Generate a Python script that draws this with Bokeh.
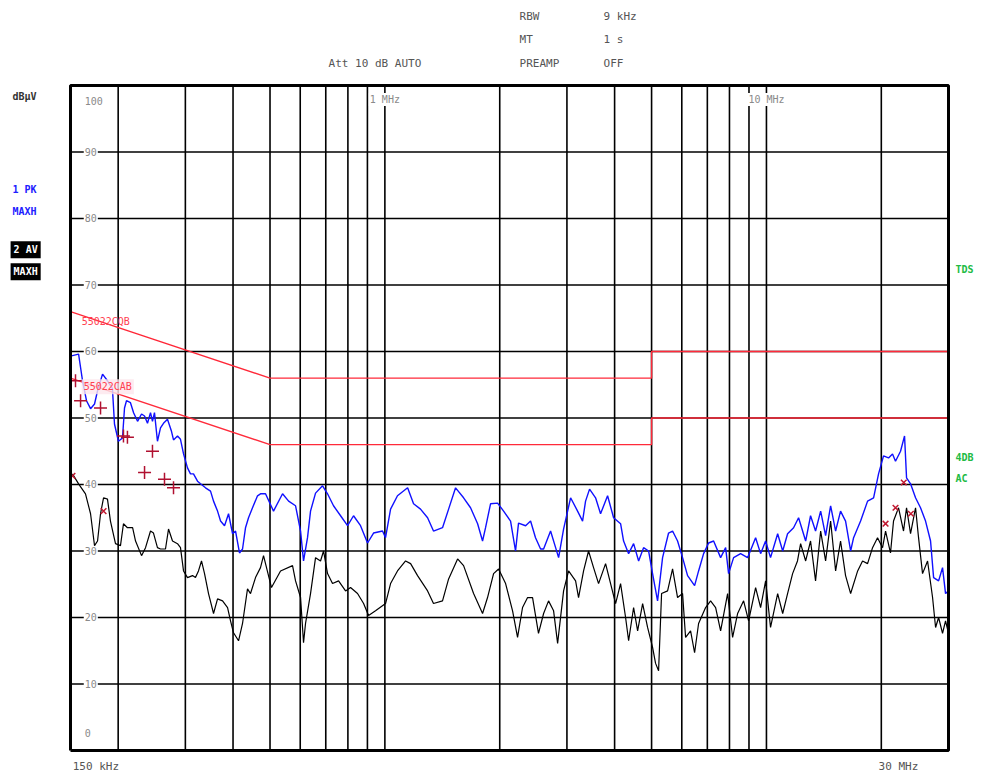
from bokeh.plotting import figure
from bokeh.models import Label, Range1d
from bokeh.embed import file_html
from bokeh.resources import INLINE

# ---------------- data (frequency in MHz, level in dBuV) ----------------
pk_freq = [0.150, 0.1575, 0.1613, 0.1652, 0.1693, 0.1734, 0.1766, 0.1820, 0.1875, 0.1932,
           0.1956, 0.2003, 0.2053, 0.2078, 0.2103, 0.2154, 0.2195, 0.2248, 0.2303, 0.2345,
           0.2387, 0.2431, 0.2460, 0.2490, 0.2535, 0.2582, 0.2629, 0.2693, 0.2759, 0.2793,
           0.2861, 0.2913, 0.2967, 0.3039, 0.3094, 0.3151, 0.3228, 0.3287, 0.3388, 0.3492,
           0.3556, 0.3643, 0.3710, 0.3800, 0.3893, 0.3988, 0.4061, 0.4159, 0.4236, 0.4313,
           0.4392, 0.4499, 0.4637, 0.4721, 0.4866, 0.5107, 0.5393, 0.5594, 0.5833, 0.6012,
           0.6121, 0.6270, 0.6385, 0.6581, 0.6865, 0.7075, 0.7335, 0.7654, 0.7984, 0.8277,
           0.8634, 0.9007, 0.9339, 0.9860, 1.004, 1.035, 1.079, 1.147, 1.189, 1.240,
           1.294, 1.341, 1.416, 1.469, 1.532, 1.608, 1.677, 1.750, 1.803, 1.836,
           1.892, 1.974, 2.047, 2.135, 2.200, 2.240, 2.338, 2.409, 2.482, 2.559,
           2.606, 2.718, 2.802, 2.853, 2.940, 3.067, 3.199, 3.297, 3.357, 3.439,
           3.566, 3.675, 3.834, 3.976, 4.147, 4.223, 4.353, 4.486, 4.624, 4.764,
           4.910, 5.030, 5.184, 5.343, 5.540, 5.675, 5.849, 6.028, 6.213, 6.482,
           6.640, 6.844, 7.054, 7.270, 7.584, 7.817, 7.958, 8.202, 8.556, 8.925,
           9.367, 9.654, 9.950, 10.25, 10.70, 11.03, 11.36, 11.78, 12.14, 12.67,
           13.05, 13.45, 13.87, 14.29, 14.73, 15.18, 15.64, 16.12, 16.62, 16.92,
           17.65, 18.41, 19.09, 19.67, 20.27, 20.89, 21.40, 21.79, 22.46, 23.01,
           23.29, 23.86, 24.59, 25.34, 26.12, 26.92, 27.42, 28.26, 28.94, 29.47, 30.0]
pk_level = [59.3, 59.6, 55.6, 52.6, 51.4, 52.1, 54.1, 56.6, 55.6, 54.4,
            49.1, 46.5, 47.0, 51.5, 52.6, 52.3, 50.8, 49.5, 50.6, 50.3,
            49.2, 50.8, 49.5, 50.8, 46.5, 48.5, 49.2, 49.8, 48.0, 46.7,
            47.3, 46.8, 44.6, 42.5, 41.6, 41.6, 40.5, 40.1, 39.5, 39.0,
            37.5, 36.0, 34.5, 33.8, 35.6, 32.6, 33.0, 29.7, 30.3, 33.5,
            35.0, 36.5, 38.3, 38.6, 38.6, 36.0, 38.6, 37.5, 36.8, 33.0,
            28.5, 32.0, 36.0, 38.7, 39.8, 38.6, 36.8, 35.3, 33.8, 35.3,
            33.8, 31.2, 32.7, 33.0, 32.0, 36.3, 38.3, 39.5, 37.1, 36.3,
            35.0, 33.0, 33.5, 36.3, 39.5, 38.0, 36.5, 34.1, 31.5, 33.5,
            37.1, 37.2, 36.0, 34.5, 30.0, 34.2, 33.8, 34.5, 32.0, 30.3,
            30.3, 33.0, 30.5, 29.0, 33.3, 38.0, 36.0, 34.5, 37.5, 39.3,
            38.0, 35.6, 38.3, 35.0, 34.1, 31.5, 29.6, 31.1, 28.5, 30.5,
            30.0, 26.6, 22.5, 29.0, 32.7, 33.0, 31.5, 29.0, 26.3, 24.8,
            27.0, 29.6, 31.2, 31.5, 29.0, 30.5, 26.6, 29.0, 29.6, 29.0,
            32.0, 29.6, 31.5, 29.0, 32.6, 30.0, 32.6, 33.5, 35.0, 31.5,
            35.3, 33.0, 36.0, 32.3, 36.8, 33.0, 36.0, 34.5, 30.0, 32.0,
            34.5, 37.5, 38.0, 41.6, 44.3, 44.0, 44.6, 43.5, 45.0, 47.3,
            41.0, 40.1, 38.0, 36.5, 34.5, 31.5, 26.0, 25.5, 27.5, 23.6, 24.0]

av_freq = [0.1518, 0.1575, 0.1642, 0.1693, 0.1734, 0.1766, 0.1798, 0.1831, 0.1875, 0.1909,
           0.1968, 0.2028, 0.2065, 0.2115, 0.2182, 0.2221, 0.2303, 0.2359, 0.2431, 0.2475,
           0.2535, 0.2582, 0.2661, 0.2710, 0.2776, 0.2861, 0.2913, 0.2967, 0.3039, 0.3132,
           0.3189, 0.3247, 0.3307, 0.3368, 0.3450, 0.3556, 0.3643, 0.3755, 0.3870, 0.3940,
           0.4012, 0.4135, 0.4236, 0.4365, 0.4445, 0.4581, 0.4721, 0.4808, 0.5045, 0.5328,
           0.5728, 0.5833, 0.6012, 0.6121, 0.6195, 0.6385, 0.6581, 0.6782, 0.6907, 0.7075,
           0.7291, 0.7562, 0.7888, 0.8128, 0.8479, 0.8795, 0.9062, 0.9452, 1.004, 1.035,
           1.079, 1.133, 1.168, 1.218, 1.294, 1.341, 1.416, 1.469, 1.551, 1.608,
           1.708, 1.803, 1.858, 1.927, 1.986, 2.072, 2.161, 2.227, 2.295, 2.366,
           2.438, 2.527, 2.606, 2.685, 2.768, 2.836, 2.940, 3.030, 3.161, 3.218,
           3.317, 3.418, 3.523, 3.631, 3.788, 3.904, 4.024, 4.147, 4.274, 4.353,
           4.486, 4.596, 4.737, 4.881, 5.030, 5.122, 5.216, 5.311, 5.507, 5.675,
           5.849, 6.028, 6.139, 6.327, 6.482, 6.640, 6.927, 7.139, 7.359, 7.584,
           7.911, 8.153, 8.403, 8.712, 8.979, 9.367, 9.654, 9.950, 10.25, 10.70,
           11.03, 11.36, 11.71, 12.06, 12.29, 12.67, 13.05, 13.45, 13.87, 14.29,
           14.73, 15.18, 15.64, 16.12, 16.62, 17.34, 17.86, 18.41, 18.97, 19.55,
           20.15, 20.52, 21.14, 21.53, 22.19, 22.87, 23.29, 23.86, 24.59, 25.04,
           25.65, 26.44, 27.25, 27.75, 28.26, 28.94, 29.47, 30.0]
av_level = [41.6, 40.1, 38.6, 35.6, 30.8, 31.5, 35.6, 38.0, 37.8, 34.5,
            31.1, 30.8, 34.1, 33.5, 33.5, 31.5, 29.3, 30.5, 33.0, 32.7,
            30.5, 30.3, 30.3, 33.3, 31.5, 31.1, 30.5, 27.0, 26.0, 26.3,
            26.0, 27.0, 28.5, 26.6, 23.6, 20.6, 22.8, 22.5, 21.5, 19.5,
            17.7, 16.5, 19.1, 24.3, 23.6, 26.0, 27.5, 29.3, 24.5, 27.0,
            27.8, 25.5, 23.0, 16.2, 19.1, 23.6, 29.0, 28.5, 30.0, 26.6,
            25.1, 25.5, 24.0, 24.5, 23.6, 22.1, 20.3, 21.0, 22.1, 25.1,
            27.0, 28.5, 28.1, 26.3, 24.0, 22.1, 22.5, 25.8, 28.8, 27.8,
            23.6, 20.6, 23.0, 26.6, 27.3, 25.1, 21.0, 17.0, 21.5, 23.0,
            23.0, 17.6, 20.6, 22.5, 21.0, 16.1, 24.0, 27.0, 25.5, 23.0,
            27.0, 30.0, 27.5, 25.1, 28.1, 25.1, 22.1, 25.1, 20.0, 16.5,
            21.5, 18.0, 22.1, 18.5, 15.5, 13.1, 12.0, 23.6, 24.0, 27.3,
            23.0, 23.6, 17.0, 18.0, 14.7, 19.1, 21.5, 22.5, 21.5, 18.0,
            23.6, 17.0, 20.6, 22.5, 19.5, 24.5, 21.5, 25.5, 18.5, 23.6,
            20.6, 23.6, 26.6, 28.5, 31.1, 28.5, 31.5, 25.5, 33.0, 28.5,
            34.5, 27.0, 31.5, 26.3, 23.6, 27.0, 28.5, 28.1, 30.5, 32.0,
            30.5, 33.0, 29.7, 34.5, 36.5, 33.0, 36.5, 32.6, 36.5, 32.0,
            26.6, 28.5, 23.0, 18.5, 20.0, 17.6, 19.5, 17.6]

# limit lines (EN 55022 class B)
qp_lim_freq = [0.15, 0.5, 5.0, 5.0, 30.0]
qp_lim_level = [66, 56, 56, 60, 60]
av_lim_freq = [0.15, 0.5, 5.0, 5.0, 30.0]
av_lim_level = [56, 46, 46, 50, 50]

# final measurement markers
qp_mark_freq = [0.1546, 0.1594, 0.1798, 0.2065, 0.2115, 0.2345, 0.2460, 0.2645, 0.2793]
qp_mark_level = [55.6, 52.6, 51.5, 47.3, 47.1, 41.8, 45.0, 40.8, 39.5]
av_mark_freq = [0.1518, 0.1831, 20.52, 21.79, 22.90, 23.90]
av_mark_level = [41.3, 36.0, 34.1, 36.5, 40.3, 35.6]

# scale / grid
f_start, f_stop = 0.15, 30.0
level_min, level_max = 0, 100
x_grid = [0.2, 0.3, 0.4, 0.5, 0.6, 0.7, 0.8, 0.9, 1, 2, 3, 4, 5, 6, 7, 8, 9, 10, 20]
y_grid = [10, 20, 30, 40, 50, 60, 70, 80, 90]
y_tick_labels = ["100", "90", "80", "70", "60", "50", "40", "30", "20", "10", "0"]
y_tick_values = [100, 90, 80, 70, 60, 50, 40, 30, 20, 10, 0]

MONO = "DejaVu Sans Mono"

# The whole canvas is the plot frame, so that header / side texts can be placed
# in data space; the diagram box is drawn explicitly.
p = figure(width=980, height=773, x_axis_type="log",
           x_range=Range1d(0.09832, 36.39), y_range=Range1d(-3.46, 112.78),
           output_backend="svg", toolbar_location=None,
           min_border=0, min_border_left=0, min_border_right=0,
           min_border_top=0, min_border_bottom=0)
p.axis.visible = False
p.grid.visible = False
p.outline_line_color = None
p.background_fill_color = "white"
p.border_fill_color = "white"

# grid lines
p.segment(x0=x_grid, y0=[level_min] * len(x_grid), x1=x_grid, y1=[level_max] * len(x_grid),
          line_color="black", line_width=1.6)
p.segment(x0=[f_start] * len(y_grid), y0=y_grid, x1=[f_stop] * len(y_grid), y1=y_grid,
          line_color="black", line_width=1.6)

# y tick labels inside the frame
for txt, val in zip(y_tick_labels, y_tick_values):
    yy = val
    if val == 100:
        yy = 97.6
    elif val == 0:
        yy = 2.6
    p.add_layout(Label(x=0.1625, y=yy, text=txt, text_font=MONO, text_font_size="10px",
                       text_color="#8a8a8a", text_baseline="middle",
                       background_fill_color="white" if val not in (0, 100) else None,
                       padding=1))

# decade labels at the top
for f, txt in [(1.0, "1 MHz"), (10.0, "10 MHz")]:
    p.add_layout(Label(x=f, y=97.9, text=txt, text_font=MONO, text_font_size="10px",
                       text_color="#8a8a8a", text_align="center", text_baseline="middle",
                       background_fill_color="white", padding=1))

# limit lines
p.line(qp_lim_freq, qp_lim_level, line_color="#ff2a3a", line_width=1.4)
p.line(av_lim_freq, av_lim_level, line_color="#ff2a3a", line_width=1.4)
p.add_layout(Label(x=0.1605, y=64.5, text="55022CQB", text_font=MONO, text_font_size="10px",
                   text_color="#ff4050", text_baseline="middle"))
p.add_layout(Label(x=0.1605, y=54.7, text="55022CAB", text_font=MONO, text_font_size="10px",
                   text_color="#ff4050", text_baseline="middle",
                   background_fill_color="#fde6ec", background_fill_alpha=0.8, padding=2))

# traces
p.line(av_freq, av_level, line_color="black", line_width=1.2)
p.line(pk_freq, pk_level, line_color="#1010ff", line_width=1.4)

# markers
p.scatter(qp_mark_freq, qp_mark_level, marker="cross", size=13, line_color="#b01030",
          line_width=1.5)
p.scatter(av_mark_freq, av_mark_level, marker="x", size=8, line_color="#c01830",
          line_width=1.5)

# diagram box
p.line([f_start, f_stop, f_stop, f_start, f_start],
       [level_min, level_min, level_max, level_max, level_min],
       line_color="black", line_width=3)

# header texts
hdr = dict(text_font=MONO, text_font_size="11px", text_color="#555555", text_baseline="middle")
p.add_layout(Label(x=2.254, y=110.4, text="RBW", **hdr))
p.add_layout(Label(x=3.743, y=110.4, text="9 kHz", **hdr))
p.add_layout(Label(x=2.254, y=106.9, text="MT", **hdr))
p.add_layout(Label(x=3.743, y=106.9, text="1 s", **hdr))
p.add_layout(Label(x=0.712, y=103.3, text="Att 10 dB AUTO", **hdr))
p.add_layout(Label(x=2.254, y=103.3, text="PREAMP", **hdr))
p.add_layout(Label(x=3.743, y=103.3, text="OFF", **hdr))

# left side texts
side = dict(text_font=MONO, text_font_size="10px", text_baseline="middle", text_font_style="bold")
p.add_layout(Label(x=0.1057, y=98.3, text="dBµV", text_color="#333333", **side))
p.add_layout(Label(x=0.1057, y=84.4, text="1 PK", text_color="#2020ff", **side))
p.add_layout(Label(x=0.1057, y=81.1, text="MAXH", text_color="#2020ff", **side))
p.add_layout(Label(x=0.1045, y=75.3, text="2 AV", text_color="white",
                   background_fill_color="black", padding=3, **side))
p.add_layout(Label(x=0.1045, y=72.0, text="MAXH", text_color="white",
                   background_fill_color="black", padding=3, **side))

# right side texts
rs = dict(text_font=MONO, text_font_size="10px", text_baseline="middle", text_color="#22bb44",
          text_font_style="bold")
p.add_layout(Label(x=31.3, y=72.4, text="TDS", **rs))
p.add_layout(Label(x=31.3, y=44.0, text="4DB", **rs))
p.add_layout(Label(x=31.3, y=40.9, text="AC", **rs))

# bottom labels
bt = dict(text_font=MONO, text_font_size="11px", text_color="#555555", text_baseline="middle")
p.add_layout(Label(x=0.152, y=-2.4, text="150 kHz", **bt))
p.add_layout(Label(x=19.67, y=-2.4, text="30 MHz", **bt))

open("out.html", "w").write(file_html(p, INLINE))
